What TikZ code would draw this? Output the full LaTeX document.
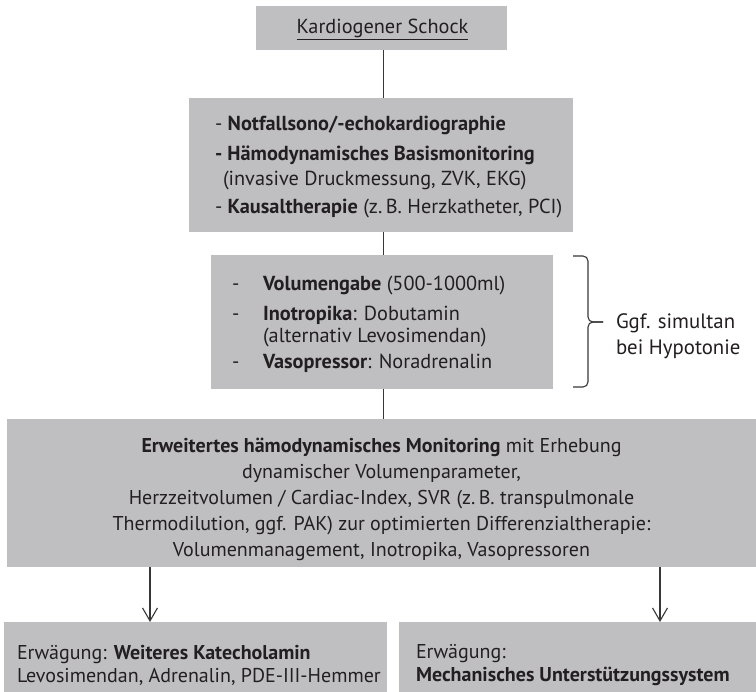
\documentclass[tikz,border=0pt]{standalone}
\usepackage{fontspec}
\setmainfont{PT Sans}
\usetikzlibrary{arrows.meta}

\definecolor{boxgray}{RGB}{191,191,194}
\definecolor{ink}{RGB}{35,31,32}
\definecolor{wire}{RGB}{55,55,55}

\tikzset{
  box/.style={fill=boxgray, draw=none, inner sep=0pt, outer sep=0pt},
  body/.style={inner sep=0pt, outer sep=0pt, text=ink, align=left},
  wide/.style={font=\fontsize{20.3}{26}\selectfont},
  narrow/.style={font=\fontsize{20}{26}\selectfont},
  link/.style={draw=wire, line width=1.1pt},
  flow/.style={link, -{Straight Barb[length=13pt,width=15pt]}},
}

\newcommand{\dashitem}[1]{\makebox[31pt][l]{-}#1}

\begin{document}
\begin{tikzpicture}[x=1pt,y=-1pt]
  \useasboundingbox (0,0) rectangle (756,692);

  % boxes
  \node[box, minimum width=251pt, minimum height=44pt] (B1) at (381.5,28) {};
  \node[box, minimum width=384pt, minimum height=134pt] (B2) at (381,165) {};
  \node[box, minimum width=342pt, minimum height=134pt] (B3) at (382,322) {};
  \node[box, minimum width=749pt, minimum height=148pt] (B4) at (381.5,493) {};
  \node[box, minimum width=383pt, minimum height=70pt] (B5) at (195.5,657) {};
  \node[box, minimum width=357pt, minimum height=70pt] (B6) at (577.5,657) {};

  % box contents
  \node[body, wide, anchor=base] (B1t) at (382.5,34) {\underline{Kardiogener Schock}};
  \node[body, wide, anchor=west] (B2t) at (215,167)
    {- \textbf{Notfallsono/-echokardiographie}\\[4pt]
     \textbf{- Hämodynamisches Basismonitoring}\\[-1pt]
     \hspace*{8pt}(invasive Druckmessung, ZVK, EKG)\\[2pt]
     - \textbf{Kausaltherapie} (z.\,B. Herzkatheter, PCI)};
  \node[body, wide, anchor=west] (B3t) at (232,324)
    {\dashitem{\textbf{Volumengabe} (500-1000ml)}\\[4pt]
     \dashitem{\textbf{Inotropika}: Dobutamin}\\[-4pt]
     \hspace*{31pt}(alternativ Levosimendan)\\[0pt]
     \dashitem{\textbf{Vasopressor}: Noradrenalin}};
  \node[body, narrow, align=center] (B4t) at (381.5,499)
    {\textbf{Erweitertes hämodynamisches Monitoring} mit Erhebung\\
     dynamischer Volumenparameter,\\
     Herzzeitvolumen / Cardiac-Index, SVR (z.\,B. transpulmonale\\
     Thermodilution, ggf. PAK) zur optimierten Differenzialtherapie:\\
     Volumenmanagement, Inotropika, Vasopressoren};
  \node[body, narrow, anchor=west] (B5t) at (17,665)
    {Erwägung: \textbf{Weiteres Katecholamin}\\[-3pt]
     Levosimendan, Adrenalin, PDE-III-Hemmer};
  \node[body, narrow, anchor=west] (B6t) at (416,665)
    {Erwägung:\\[-3pt]
     \textbf{Mechanisches Unterstützungssystem}};

  % side note with brace
  \node[body, font=\fontsize{20.8}{26}\selectfont, anchor=west] (note) at (616,336) {Ggf. simultan\\bei Hypotonie};
  \draw[link, rounded corners=5pt] ([xshift=20pt,yshift=-1pt]B3.north east) -- ++(15,0) |- ([xshift=50pt]B3.east);
  \draw[link, rounded corners=5pt] ([xshift=20pt,yshift=2pt]B3.south east) -- ++(15,0) |- ([xshift=50pt]B3.east);

  % connectors
  \coordinate (spine) at (383.5,0);
  \coordinate (leftdrop) at (150,0);
  \coordinate (rightdrop) at (660,0);
  \draw[link] (B1.south -| spine) -- (B2.north -| spine);
  \draw[link] (B2.south -| spine) -- (B3.north -| spine);
  \draw[link] (B3.south -| spine) -- (B4.north -| spine);
  \draw[flow] (B4.south -| leftdrop) -- (B5.north -| leftdrop);
  \draw[flow] (B4.south -| rightdrop) -- (B6.north -| rightdrop);
\end{tikzpicture}
\end{document}
